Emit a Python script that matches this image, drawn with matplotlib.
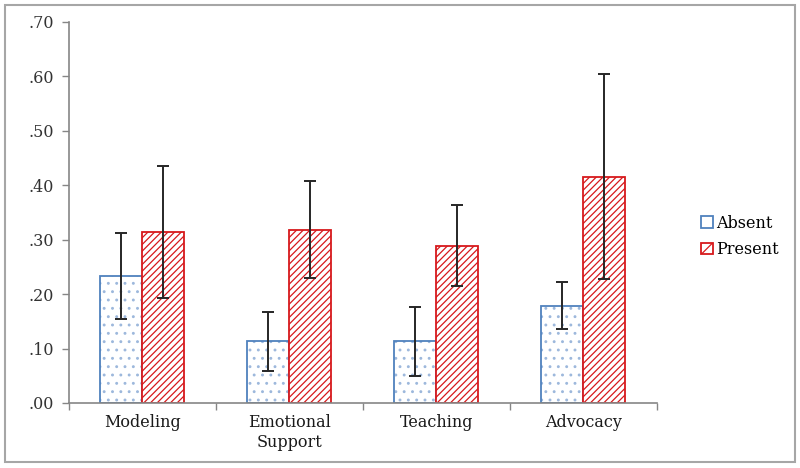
import matplotlib
matplotlib.use("Agg")
import matplotlib.pyplot as plt
import numpy as np
from matplotlib.ticker import FuncFormatter, FixedLocator
from matplotlib.patches import Rectangle, Patch

categories = ["Modeling", "Emotional\nSupport", "Teaching", "Advocacy"]
absent = [0.233, 0.113, 0.113, 0.179]
absent_err = [0.079, 0.054, 0.064, 0.044]
present = [0.314, 0.318, 0.289, 0.416]
present_err = [0.122, 0.089, 0.074, 0.189]
yticks = [0.0, 0.1, 0.2, 0.3, 0.4, 0.5, 0.6, 0.7]

plt.rcParams['font.family'] = ['DejaVu Serif']
plt.rcParams['hatch.linewidth'] = 0.9

fig = plt.figure(figsize=(8, 4.68), dpi=100)
ax = fig.add_axes([0.086, 0.139, 0.735, 0.814])

blue = "#4F81BD"
blue_dot = "#9DB8DC"
red = "#D7191C"
spine_c = "#868686"

x = np.arange(len(categories))
w = 0.285
# hatch layers (lighter dots), then outlines
ax.bar(x - w/2, absent, w, color="white", edgecolor=blue_dot, hatch="..", linewidth=0)
ax.bar(x - w/2, absent, w, fill=False, edgecolor=blue, linewidth=1.3)
ax.bar(x + w/2, present, w, color="white", edgecolor=red, hatch="/////", linewidth=1.3)
ax.errorbar(x - w/2, absent, yerr=absent_err, fmt="none", ecolor="#262626", elinewidth=1.4, capsize=4.5, capthick=1.4)
ax.errorbar(x + w/2, present, yerr=present_err, fmt="none", ecolor="#262626", elinewidth=1.4, capsize=4.5, capthick=1.4)

ax.set_xlim(-0.5, len(categories) - 0.5)
ax.set_ylim(0, 0.7)
ax.set_yticks(yticks)
ax.yaxis.set_major_formatter(FuncFormatter(lambda v, p: f"{v:.2f}"[1:]))
ax.set_xticks(x)
ax.set_xticklabels(categories)
ax.xaxis.set_minor_locator(FixedLocator(np.arange(-0.5, len(categories), 1.0)))
ax.tick_params(axis="x", which="major", length=0, pad=8, labelsize=11.5, labelcolor="#1a1a1a")
ax.tick_params(axis="x", which="minor", length=5, color=spine_c, width=1)
ax.tick_params(axis="y", length=5, color=spine_c, width=1, labelsize=11.5, labelcolor="#333333", pad=6)

for s in ["top", "right"]:
    ax.spines[s].set_visible(False)
for s in ["left", "bottom"]:
    ax.spines[s].set_color(spine_c)
    ax.spines[s].set_linewidth(1.2)

handles = [Patch(facecolor="white", edgecolor=blue, linewidth=1.3, label="Absent"),
           Patch(facecolor="white", edgecolor=red, hatch="///", linewidth=1.3, label="Present")]
leg = ax.legend(handles=handles, loc="center left", bbox_to_anchor=(0.862, 0.495),
                bbox_transform=fig.transFigure,
                frameon=False, fontsize=11.5, handlelength=0.75, handleheight=0.75,
                handletextpad=0.2, labelspacing=0.6, borderpad=0.2)

fig.patches.append(Rectangle((0.006, 0.012), 0.988, 0.978, transform=fig.transFigure,
                             fill=False, edgecolor="#A6A6A6", linewidth=1.5))

fig.savefig("out.png", dpi=100)
